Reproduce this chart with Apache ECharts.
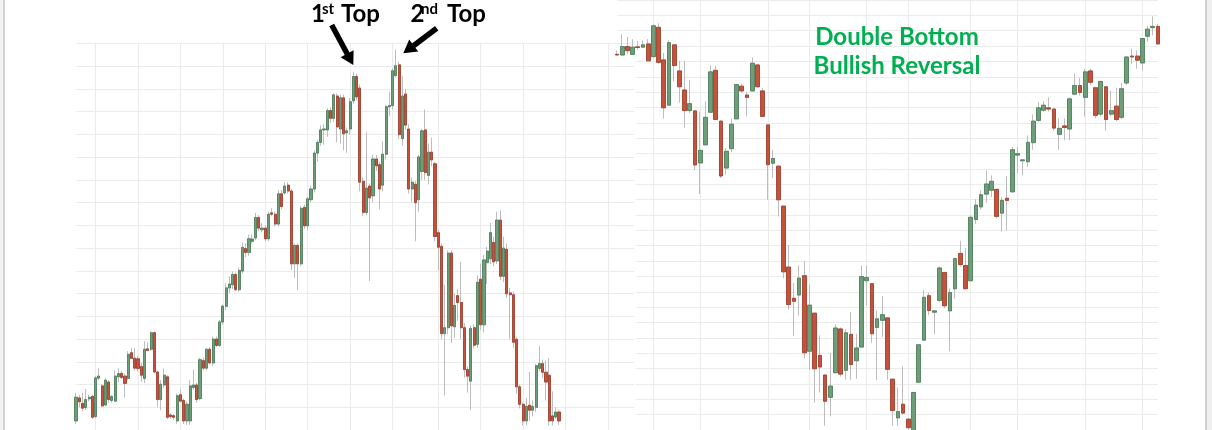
<!DOCTYPE html>
<html><head><meta charset="utf-8">
<script src="https://cdn.jsdelivr.net/npm/echarts@6/dist/echarts.min.js"></script>
<style>html,body{margin:0;padding:0;background:#fff}#c{width:1212px;height:430px}</style>
</head><body><div id="c"></div>
<script>
// ---- Left panel: double top (OHLC = open, close, low, high) ----
const leftOHLC = [
[-6.0,4.4,-7.3,6.4],[4.1,2.4,0,5.5],[1.7,-0.4,-1.7,6.4],[-0.1,3.4,-1.3,8.1],[3.7,4.4,2.6,5.5],
[4.8,-4.4,-5.1,5.5],[-4.1,12.9,-4.7,13.7],[12.8,13.7,11.9,17.1],[9.4,0.6,0,10.2],[1.0,11.9,0.4,12.8],
[11.1,3.4,2.1,11.9],[3.0,4.7,2.1,5.5],[2.7,13.7,2.6,16.2],[13.4,14.8,11.1,17.1],[14.9,13.1,12.4,15.8],
[13.7,10.5,4.3,14.9],[12.7,23.3,11.9,24.7],[24.0,21.5,21.3,26.0],[21.6,17.2,16.2,26.0],[21.3,17.1,15.8,22.6],
[17.9,14.1,11.1,19.6],[12.7,25.5,10.7,29.0],[25.7,25.0,24.7,28.6],[25.5,32.8,24.7,33.3],[32.8,15.5,14.9,33.3],
[15.5,3.4,0,16.2],[3.4,10.1,-1.3,11.9],[9.8,14.1,8.5,17.1],[13.4,-4.4,-5.1,14.1],[-3.4,-4.1,-5.1,-2.6],
[-3.7,-4.4,-5.5,-3.0],[-6.0,5.1,-7.3,6.0],[5.5,2.7,2.1,7.7],[3.0,-6.0,-7.3,3.8],[-6.0,1.3,-7.7,2.6],
[-6.0,9.4,-7.7,11.9],[8.7,9.8,7.7,16.6],[9.8,3.4,2.1,10.7],[3.8,20.9,3.0,21.8],[20.5,17.2,16.2,21.8],
[17.2,25.5,16.2,26.0],[25.5,19.5,18.8,26.5],[19.5,30.0,18.3,31.1],[30.0,27.2,26.5,31.1],[27.2,37.5,26.5,38.4],
[37.5,44.5,36.3,45.2],[44.4,52.5,42.7,54.6],[52.5,54.2,50.3,57.6],[53.9,58.4,52.0,59.7],[58.4,51.7,51.2,59.3],
[51.7,60.2,50.8,61.4],[59.9,70.3,58.9,72.5],[69.8,68.1,66.1,72.1],[68.1,74.1,66.6,75.9],[73.0,74.0,72.0,76.0],
[74.5,83.5,73.5,85.5],[83.5,78.8,77.5,84.5],[78.1,78.8,77.0,81.0],[78.8,74.1,73.0,80.0],[74.1,84.9,73.0,86.0],
[85.5,84.9,84.0,87.5],[84.9,80.6,79.5,86.0],[80.6,93.9,79.5,95.5],[93.9,88.3,87.0,95.5],[94.3,97.3,93.5,99.0],
[97.7,95.1,94.0,99.0],[95.1,63.1,60.3,96.0],[63.1,71.2,57.0,72.0],[71.2,63.1,51.5,72.0],[63.1,87.5,62.0,88.5],
[87.9,79.8,78.5,89.0],[79.8,91.7,78.0,92.5],[91.3,96.0,90.0,97.5],[96.0,111.8,94.5,113.0],[111.8,116.5,108.0,117.5],
[116.5,122.0,115.0,124.0],[122.0,122.4,115.5,124.5],[122.0,130.5,119.0,131.5],[130.5,127.1,125.0,132.0],[127.1,137.4,125.5,138.0],
[136.9,123.3,116.5,138.0],[122.4,136.1,116.0,137.5],[136.1,120.3,113.0,137.5],[120.7,121.6,111.9,123.0],[122.4,134.4,120.0,136.0],
[134.8,145.5,133.5,147.6],[145.5,136.5,135.0,146.8],[140.4,99.0,95.0,142.0],[99.4,85.7,84.0,101.0],[85.7,96.4,84.5,121.2],
[97.3,92.1,55.5,98.5],[93.0,109.2,90.0,111.0],[109.2,106.2,104.0,111.0],[106.7,96.0,87.0,108.0],[97.7,111.3,95.0,117.0],
[111.3,132.2,109.0,133.0],[132.2,132.7,128.0,138.6],[132.7,148.0,131.0,149.0],[145.9,150.2,145.0,157.3],[150.6,119.9,118.0,152.0],
[118.2,136.9,115.0,145.6],[137.8,124.1,122.0,140.0],[122.4,96.0,94.0,124.5],[96.0,99.0,90.0,101.0],[98.1,90.0,73.0,99.5],
[91.3,110.1,86.0,111.0],[103.7,121.6,100.0,122.5],[122.0,103.2,100.0,131.0],[102.0,112.2,98.0,116.0],[112.2,108.8,106.0,118.6],
[107.1,75.1,73.0,108.0],[76.8,70.4,60.0,78.0],[70.8,32.4,30.0,72.0],[32.4,35.0,5.2,53.9],[35.0,67.8,32.0,69.0],
[67.8,35.8,28.3,69.0],[35.4,44.8,30.5,50.0],[49.1,46.1,38.0,52.0],[46.1,35.0,30.0,64.0],[35.0,16.6,13.0,37.0],
[16.6,13.7,6.4,18.0],[11.5,34.6,-1.3,36.0],[35.0,27.3,26.0,36.5],[27.7,55.0,26.0,58.0],[56.3,36.3,34.0,63.1],
[36.3,64.8,33.0,67.0],[63.6,68.7,54.2,70.5],[65.3,76.8,63.0,81.1],[72.5,64.0,62.0,75.0],[64.4,82.3,63.0,86.0],
[82.3,57.6,56.0,86.6],[57.6,70.0,55.0,75.0],[69.5,49.9,48.0,72.0],[50.3,49.5,30.0,52.5],[49.5,28.6,26.0,51.0],
[29.9,9.0,6.0,31.0],[9.0,1.3,-0.5,10.0],[1.3,-6.0,-8.0,2.0],[-6.0,0.4,-8.0,4.0],[0.9,-1.3,-6.0,15.5],
[-1.3,0.4,-4.0,3.0],[0,18.3,-2.0,19.0],[17.1,19.2,16.0,27.0],[19.2,15.4,13.0,21.0],[15.4,11.1,3.0,20.5],
[14.1,-6.0,-8.0,21.5],[-3.8,-6.0,-8.0,7.0],[-4.3,-2.1,-5.0,0],[-2.1,-6.0,-8.0,-1.0]
];
// ---- Right panel: double bottom ----
const rightOHLC = [
[234.6,234.2,233.8,237.1],[234.2,239.7,233.8,247.6],[239.7,237.0,234.6,246.0],[234.6,239.3,234.2,244.5],[239.5,239.1,237.6,243.4],
[239.3,240.8,238.7,243.8],[241.4,230.4,230.4,244.5],[233.1,253.2,232.5,254.2],[252.2,229.4,228.4,254.8],[231.0,199.8,192.8,235.6],
[201.5,242.2,201.5,243.9],[240.8,227.3,217.0,241.2],[223.8,213.5,203.1,230.4],[211.4,198.0,187.0,230.4],[198.0,202.5,196.3,218.0],
[197.8,162.6,159.1,197.8],[163.9,172.1,143.6,197.3],[175.7,193.6,175.7,204.0],[196.9,223.2,196.3,227.3],[224.2,192.2,192.2,226.9],
[191.1,155.4,154.0,192.0],[160.6,171.5,156.4,173.6],[173.2,189.1,170.9,192.8],[192.6,214.9,192.6,215.5],[213.9,210.8,209.8,215.5],
[208.1,206.6,194.2,209.8],[210.8,228.8,210.4,232.5],[227.7,213.5,212.9,228.4],[210.8,194.2,194.2,212.9],[188.7,162.8,139.9,188.7],
[163.7,166.8,154.0,172.5],[161.8,139.9,129.1,162.2],[135.8,93.0,88.8,136.0],[96.1,71.7,68.4,110.5],[75.8,73.8,51.2,85.7],
[77.9,88.9,64.5,97.1],[90.5,40.3,36.8,100.2],[41.3,71.3,29.3,84.7],[66.1,29.9,7.8,66.1],[38.6,31.0,14.4,51.6],
[25.8,8.7,-7.2,25.8],[11.3,18.6,-1.1,40.3],[27.3,56.4,27.3,58.9],[55.8,26.4,24.8,56.8],[28.9,53.3,22.7,55.8],
[52.3,32.6,22.7,66.7],[35.1,43.4,23.3,52.7],[44.0,89.9,44.0,97.1],[87.2,89.3,70.9,97.1],[85.3,52.7,46.9,85.7],
[56.8,62.4,22.5,67.8],[61.4,65.1,50.6,77.1],[63.0,29.5,22.7,63.0],[23.1,2.7,-7.2,23.1],[-2.1,2.0,-7.2,17.6],
[6.8,1.0,0,31.4],[-2.9,-8.5,-13.4,-2.9],[-10.3,14.4,-12.0,15.0],[21.1,45.5,21.1,45.5],[48.5,76.4,48.5,81.0],
[77.5,67.8,64.7,79.5],[66.7,67.6,52.3,67.6],[74.4,95.5,73.3,96.5],[92.6,70.9,69.2,92.6],[67.6,79.5,41.3,82.2],
[82.0,101.7,75.4,101.7],[105.0,97.7,96.5,113.2],[97.1,82.0,81.6,108.5],[87.2,128.5,87.0,129.8],[127.1,136.4,124.2,140.3],
[135.3,143.2,133.5,145.9],[143.6,150.2,137.8,159.0],[146.1,151.9,141.5,155.8],[146.7,129.1,127.9,147.1],[131.2,139.5,119.2,141.5],
[140.9,139.5,119.9,155.2],[145.1,172.5,144.6,174.4],[169.0,169.9,157.1,174.4],[165.3,165.9,155.8,166.3],[164.7,177.3,161.4,181.8],
[177.1,191.1,172.5,195.5],[191.6,199.8,190.5,203.5],[198.2,201.5,197.3,204.2],[199.8,199.0,197.3,206.6],[199.0,186.6,184.9,199.2],
[182.5,186.4,172.5,193.0],[188.0,187.0,178.7,193.0],[186.0,205.6,178.7,206.6],[208.7,214.3,207.9,222.2],[214.3,209.8,207.9,219.1],
[206.6,223.2,194.2,225.2],[223.8,216.4,214.7,225.2],[212.9,194.9,193.0,212.9],[195.7,217.0,194.2,217.2],[213.5,192.2,184.9,213.5],
[195.7,198.0,194.2,211.0],[200.9,192.2,191.1,212.9],[193.6,212.2,192.4,216.0],[216.0,232.9,214.7,233.3],[233.5,232.9,228.4,238.4],
[233.5,230.8,225.2,237.1],[229.0,244.9,224.2,245.1],[246.4,251.0,242.7,253.2],[252.0,252.8,247.0,259.3],[252.8,241.4,240.8,254.4]
];
// category slots (left panel has empty periods after the last candle)
const leftCategories = Array.from({length: 172}, (_, i) => 'L' + (i + 1));
const rightCategories = Array.from({length: rightOHLC.length}, (_, i) => 'R' + (i + 1));
// category indices where vertical grid lines fall
const leftGridTicks = [6, 19, 32, 45, 58, 71, 84, 97, 111, 124, 137, 150, 163];
const rightGridTicks = [7, 16, 29, 37, 48, 56, 68, 77, 90, 101];
// value-axis ranges
const leftRange = {min: -10, max: 160, step: 10};
const rightRange = {min: -10, max: 270, step: 10};
// annotation labels
const topLabels = [{num: '1', sup: 'st', word: 'Top'}, {num: '2', sup: 'nd', word: 'Top'}];
const reversalLabels = ['Double Bottom', 'Bullish Reversal'];

const UP = '#6b9e79', UP_B = '#4a7b57', DN = '#c6523c', DN_B = '#9e3b29', WICK = '#bdbdbd', GRID = '#ebebeb';
const bodies = d => d.map(([o, c]) => [o, c, Math.min(o, c), Math.max(o, c)]);

function hiddenCat(grid, data, ticks, z) {
  return {type: 'category', gridIndex: grid, data, boundaryGap: false, z,
    axisLine: {show: false}, axisTick: {show: false}, axisLabel: {show: false},
    splitLine: {show: true, interval: (i) => ticks.includes(i), lineStyle: {color: GRID, width: 1}}};
}
function hiddenVal(grid, r, z) {
  return {type: 'value', gridIndex: grid, min: r.min, max: r.max, interval: r.step, z,
    axisLine: {show: false}, axisTick: {show: false}, axisLabel: {show: false},
    splitLine: {show: true, lineStyle: {color: GRID, width: 1}}};
}
function wicks(idx, data, bw, z) {
  return {type: 'candlestick', xAxisIndex: idx, yAxisIndex: idx, data, barWidth: bw, z, clip: false, silent: true,
    itemStyle: {color: 'transparent', color0: 'transparent', borderColor: WICK, borderColor0: WICK, borderWidth: 1}};
}
function boxes(idx, data, bw, z) {
  return {type: 'candlestick', xAxisIndex: idx, yAxisIndex: idx, data: bodies(data), barWidth: bw, z, clip: false, silent: true,
    itemStyle: {color: UP, color0: DN, borderColor: UP_B, borderColor0: DN_B, borderWidth: 0.8}};
}
const FONT = 'Lato, "Open Sans", sans-serif';
function txt(t, x, y, size, fill, align) {
  return {type: 'text', z: 20, style: {text: t, x, y, fill, fontFamily: FONT, fontWeight: 'bold', fontSize: size,
    textAlign: align || 'left', textVerticalAlign: 'middle', align: align || 'left', verticalAlign: 'middle'}};
}

const chart = echarts.init(document.getElementById('c'), null, {renderer: 'canvas'});
chart.setOption({
  animation: false,
  backgroundColor: '#ffffff',
  grid: [
    {left: 76, top: 43.5, width: 558.1, height: 398.5},
    {left: 617, top: -17.2, width: 541, height: 451.6}
  ],
  xAxis: [hiddenCat(0, leftCategories, leftGridTicks, 2), hiddenCat(1, rightCategories, rightGridTicks, 0)],
  yAxis: [hiddenVal(0, leftRange, 2), hiddenVal(1, rightRange, 0)],
  series: [
    wicks(1, rightOHLC, 4.2, 2), boxes(1, rightOHLC, 4.2, 3),
    wicks(0, leftOHLC, 2.6, 3), boxes(0, leftOHLC, 2.6, 4)
  ],
  graphic: {elements: [
    // left panel covers the right picture's grid strip
    {type: 'rect', z: 1, shape: {x: 614, y: 44, width: 21.5, height: 390}, style: {fill: '#ffffff'}},
    // frame edges
    {type: 'rect', z: 20, shape: {x: 0, y: 0, width: 3, height: 430}, style: {fill: '#f2f2f2'}},
    {type: 'rect', z: 20, shape: {x: 3, y: 0, width: 2, height: 430}, style: {fill: '#d2d2d2'}},
    {type: 'rect', z: 20, shape: {x: 1205, y: 0, width: 2, height: 430}, style: {fill: '#cfcfcf'}},
    {type: 'rect', z: 20, shape: {x: 1207, y: 0, width: 5, height: 430}, style: {fill: '#efefef'}},
    // 1st top label + arrow
    txt(topLabels[0].num, 311, 14, 24, '#000'),
    txt(topLabels[0].sup, 322, 9, 15, '#000'),
    txt(topLabels[0].word, 341, 14, 24, '#000'),
    {type: 'line', z: 20, shape: {x1: 331.7, y1: 25, x2: 347.3, y2: 54}, style: {stroke: '#000', lineWidth: 5.5}},
    {type: 'polygon', z: 20, shape: {points: [[340.6, 57.2], [353.6, 50.2], [353.3, 65]]}, style: {fill: '#000'}},
    // 2nd top label + arrow
    txt(topLabels[1].num, 410.5, 14, 24, '#000'),
    txt(topLabels[1].sup, 421, 9, 15, '#000'),
    txt(topLabels[1].word, 447, 14, 24, '#000'),
    {type: 'line', z: 20, shape: {x1: 436.7, y1: 28.3, x2: 413.5, y2: 45.7}, style: {stroke: '#000', lineWidth: 5.5}},
    {type: 'polygon', z: 20, shape: {points: [[409.2, 39.6], [418.2, 51.4], [403.3, 53.3]]}, style: {fill: '#000'}},
    // double bottom caption
    txt(reversalLabels[0], 897, 37, 24, '#00b050', 'center'),
    txt(reversalLabels[1], 897, 66, 24, '#00b050', 'center')
  ]}
});
</script></body></html>
